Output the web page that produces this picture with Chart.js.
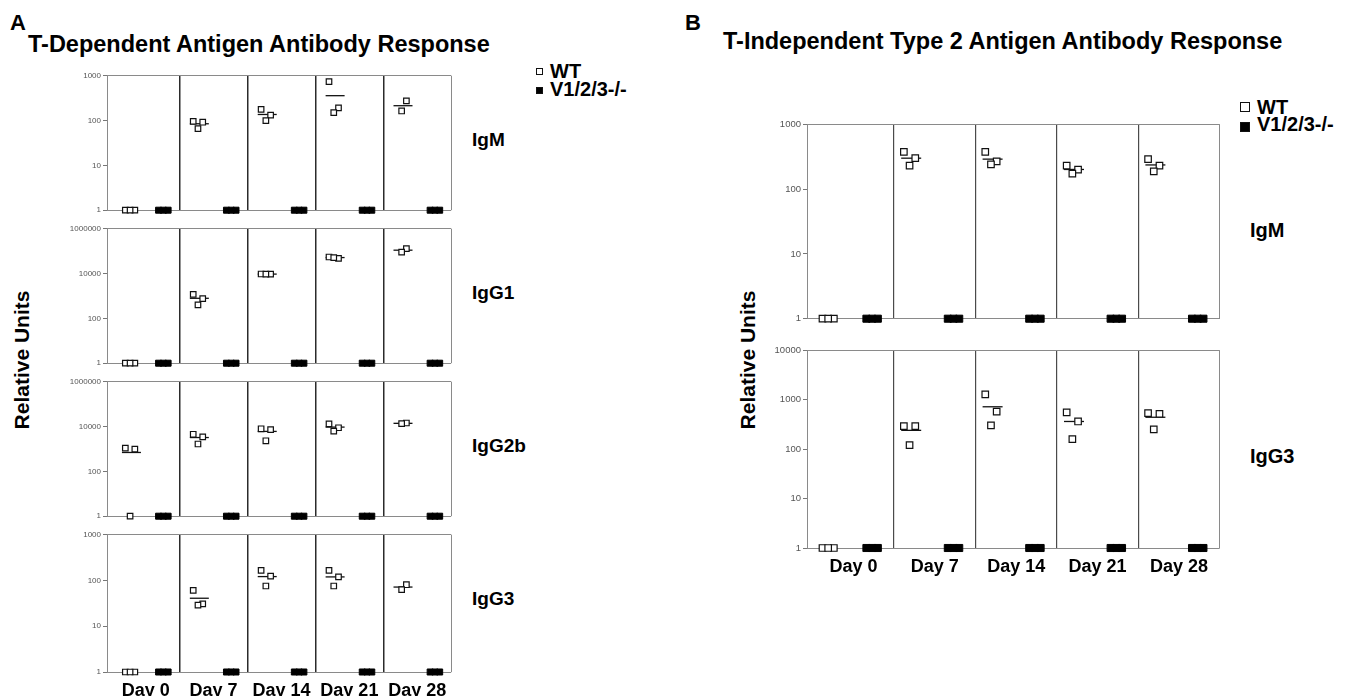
<!DOCTYPE html>
<html>
<head>
<meta charset="utf-8">
<title>Antibody responses</title>
<script src="https://cdn.jsdelivr.net/npm/chart.js@4.4.1/dist/chart.umd.min.js"></script>
<style>
  body { margin: 0; background: #fff; font-family: "Liberation Sans", Arial, sans-serif; color: #000; }
  #page { position: relative; width: 1346px; height: 696px; overflow: hidden; }
  .t { position: absolute; font-weight: bold; line-height: 1; white-space: nowrap; }
  .rot { transform: translate(-50%, -50%) rotate(-90deg); }
  .key { position: absolute; box-sizing: border-box; border: 1.3px solid #111; }
  canvas { position: absolute; }
</style>
</head>
<body>
<div id="page">
  <div class="t" style="left:10px;top:12px;font-size:22px">A</div>
  <div class="t" style="left:28px;top:33px;font-size:23.5px">T-Dependent Antigen Antibody Response</div>
  <div class="t" style="left:685px;top:12px;font-size:22px">B</div>
  <div class="t" style="left:723px;top:30px;font-size:23.5px">T-Independent Type 2 Antigen Antibody Response</div>

  <div class="t rot" style="left:21px;top:360px;font-size:21px">Relative Units</div>
  <div class="t rot" style="left:747px;top:360px;font-size:21px">Relative Units</div>

  <div class="t" style="left:472px;top:130px;font-size:19px">IgM</div>
  <div class="t" style="left:472px;top:283px;font-size:19px">IgG1</div>
  <div class="t" style="left:472px;top:436px;font-size:19px">IgG2b</div>
  <div class="t" style="left:472px;top:589px;font-size:19px">IgG3</div>
  <div class="t" style="left:1250px;top:220px;font-size:20px">IgM</div>
  <div class="t" style="left:1250px;top:446px;font-size:20px">IgG3</div>

  <div class="key" style="left:536px;top:68px;width:7px;height:7px;background:#fff"></div>
  <div class="key" style="left:536px;top:87px;width:7px;height:7px;background:#000"></div>
  <div class="t" style="left:550px;top:61px;font-size:20px">WT</div>
  <div class="t" style="left:550px;top:79px;font-size:20px">V1/2/3-/-</div>

  <div class="key" style="left:1240px;top:102px;width:10px;height:10px;background:#fff"></div>
  <div class="key" style="left:1240px;top:122px;width:10px;height:10px;background:#000"></div>
  <div class="t" style="left:1257px;top:97px;font-size:20px">WT</div>
  <div class="t" style="left:1257px;top:114px;font-size:20px">V1/2/3-/-</div>
</div>
<script>
const DAYS = ['Day 0', 'Day 7', 'Day 14', 'Day 21', 'Day 28'];

// knockout mice stay at the detection floor on every day
const KO = [[1, 1, 1], [1, 1, 1], [1, 1, 1], [1, 1, 1], [1, 1, 1]];

// A: T-dependent antigen (WT values listed left, right, middle)
const A_IGM_TICKS = [1, 10, 100, 1000];
const A_IGM_WT = [[1, 1, 1], [96, 92, 66], [178, 132, 100], [740, 192, 150], [276, 164]];
const A_IGM_MEAN = [null, 85, 137, 360, 215];

const A_IGG1_TICKS = [1, 100, 10000, 1000000];
const A_IGG1_WT = [[1, 1, 1], [1180, 770, 400], [9600, 9400, 9500], [55000, 48000, 52000], [131000, 91000]];
const A_IGG1_MEAN = [null, 790, 9500, 52000, 111000];

const A_IGG2B_TICKS = [1, 100, 10000, 1000000];
const A_IGG2B_WT = [[1090, 985, 1], [4550, 3500, 1670], [8000, 7300, 2330], [13200, 8900, 6300], [14500, 13500]];
const A_IGG2B_MEAN = [700, 3250, 6100, 9500, 14000];

const A_IGG3_TICKS = [1, 10, 100, 1000];
const A_IGG3_WT = [[1, 1, 1], [61, 31, 29], [166, 125, 76], [166, 120, 76], [81, 63]];
const A_IGG3_MEAN = [null, 41, 122, 120, 72];

// B: T-independent type 2 antigen
const B_IGM_TICKS = [1, 10, 100, 1000];
const B_IGM_WT = [[1, 1, 1], [375, 300, 230], [375, 268, 240], [230, 200, 173], [290, 230, 188]];
const B_IGM_MEAN = [null, 300, 290, 201, 236];

const B_IGG3_TICKS = [1, 10, 100, 1000, 10000];
const B_IGG3_WT = [[1, 1, 1], [293, 293, 121], [1280, 573, 302], [555, 363, 159], [537, 515, 251]];
const B_IGG3_MEAN = [null, 240, 720, 363, 442];

Chart.defaults.font.family = '"Liberation Sans", Arial, sans-serif';

const page = document.getElementById('page');
const YW = 46, PAD = 8, X_MIN = -0.07, JIT = 0.07, DAY_H = 34;
const FRAME = '#8a8a8a';

const A_GEOM = { left: 107, right: 454, tops: [73, 226, 379, 532], h: 140, wt: 0.27, ko: 0.76,
  r: 3.9, koR: 4.25, meanR: 9.5, tickFont: 8, sep: '#2b2b2b', sepW: 1.5 };
const B_GEOM = { left: 807, right: 1223, tops: [121, 347], h: 201, wt: 0.19, ko: 0.73,
  r: 4.6, koR: 5, meanR: 10, tickFont: 9.5, sep: '#4a4a4a', sepW: 1.2 };

function spread(n) {
  return n === 3 ? [-JIT, JIT, 0] : [JIT, 0];
}

function makeChart(g, row, ticks, wt, mean, withDays) {
  const top = g.tops[row];
  const bottomSpace = withDays ? DAY_H : PAD;
  const canvas = document.createElement('canvas');
  canvas.width = (g.right - g.left) + YW + PAD * 2;
  canvas.height = g.h + PAD + bottomSpace;
  canvas.style.left = (g.left - YW - PAD) + 'px';
  canvas.style.top = (top - PAD) + 'px';
  page.appendChild(canvas);

  const yMin = ticks[0], yMax = ticks[ticks.length - 1];
  const wtPts = wt.flatMap((vals, i) => vals.map((v, k) => ({ x: i + g.wt + spread(vals.length)[k], y: v })));
  const koPts = KO.flatMap((vals, i) => vals.map((v, k) => ({ x: i + g.ko + [-JIT, 0, JIT][k], y: v })));
  const meanPts = mean.map((v, i) => v == null ? null : { x: i + g.wt + 0.02, y: v }).filter(Boolean);

  return new Chart(canvas, {
    type: 'scatter',
    data: {
      datasets: [
        { label: 'WT', data: wtPts, pointStyle: 'rect', pointRadius: g.r, pointHoverRadius: g.r,
          pointBackgroundColor: '#fff', pointBorderColor: '#111', pointBorderWidth: 1.2, clip: false },
        { label: 'mean', data: meanPts, pointStyle: 'line', pointRadius: g.meanR, pointHoverRadius: g.meanR,
          pointBorderColor: '#111', pointBorderWidth: 1.3, clip: false },
        { label: 'V1/2/3-/-', data: koPts, pointStyle: 'rect', pointRadius: g.koR, pointHoverRadius: g.koR,
          pointBackgroundColor: '#000', pointBorderColor: '#000', pointBorderWidth: 1, clip: false }
      ]
    },
    options: {
      responsive: false,
      animation: false,
      events: [],
      layout: { padding: { left: PAD, right: PAD, top: PAD, bottom: withDays ? 0 : PAD } },
      plugins: { legend: { display: false }, tooltip: { enabled: false } },
      scales: {
        x: {
          type: 'linear', min: X_MIN, max: DAYS.length,
          afterBuildTicks: s => { s.ticks = DAYS.map((_, i) => ({ value: i + 1 })); },
          afterFit: s => { s.height = 0; },
          ticks: { display: false },
          grid: {
            drawTicks: false,
            color: c => c.tick && c.tick.value === DAYS.length ? FRAME : g.sep,
            lineWidth: c => c.tick && c.tick.value === DAYS.length ? 1 : g.sepW
          },
          border: { display: false }
        },
        xd: {
          type: 'linear', display: withDays, position: 'bottom', min: X_MIN, max: DAYS.length,
          afterBuildTicks: s => { s.ticks = DAYS.map((_, i) => ({ value: i + 0.5 })); },
          afterFit: s => { s.height = withDays ? DAY_H : 0; },
          ticks: { callback: (v, i) => DAYS[i], autoSkip: false, maxRotation: 0, padding: 8,
            color: '#000', font: { size: 18, weight: 'bold' } },
          grid: { display: false, drawTicks: false },
          border: { display: false }
        },
        y: {
          type: 'logarithmic', min: yMin, max: yMax,
          afterBuildTicks: s => { s.ticks = ticks.map(v => ({ value: v })); },
          afterFit: s => { s.width = YW; },
          ticks: { callback: v => String(v), autoSkip: false, padding: 2, color: '#555',
            font: { size: g.tickFont } },
          grid: {
            color: c => c.tick && (c.tick.value === yMin || c.tick.value === yMax) ? FRAME : 'rgba(0,0,0,0)',
            tickColor: '#777', tickLength: 4
          },
          border: { display: true, color: FRAME, width: 1 }
        }
      }
    }
  });
}

makeChart(A_GEOM, 0, A_IGM_TICKS, A_IGM_WT, A_IGM_MEAN, false);
makeChart(A_GEOM, 1, A_IGG1_TICKS, A_IGG1_WT, A_IGG1_MEAN, false);
makeChart(A_GEOM, 2, A_IGG2B_TICKS, A_IGG2B_WT, A_IGG2B_MEAN, false);
makeChart(A_GEOM, 3, A_IGG3_TICKS, A_IGG3_WT, A_IGG3_MEAN, true);
makeChart(B_GEOM, 0, B_IGM_TICKS, B_IGM_WT, B_IGM_MEAN, false);
makeChart(B_GEOM, 1, B_IGG3_TICKS, B_IGG3_WT, B_IGG3_MEAN, true);
</script>
</body>
</html>
